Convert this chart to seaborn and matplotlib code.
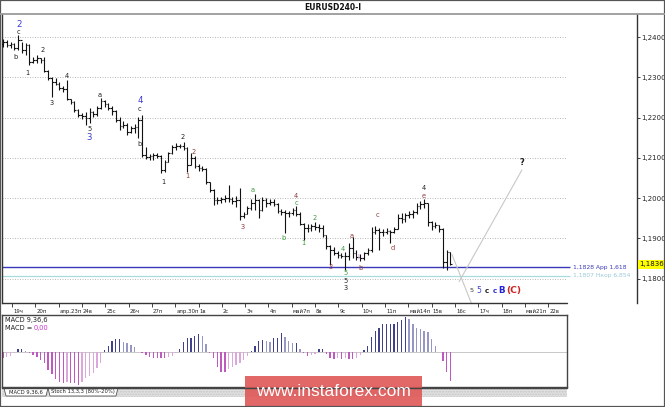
import numpy as np
import pandas as pd
import matplotlib
matplotlib.use("Agg")
import matplotlib.pyplot as plt
import seaborn as sns
from matplotlib.patches import Rectangle, Polygon
from matplotlib.lines import Line2D
from matplotlib.transforms import ScaledTranslation

# ---------------- data (EURUSD H4) ----------------
opens = [1.2383, 1.2388, 1.2380, 1.2383, 1.2373, 1.2393, 1.2368, 1.2380, 1.2338, 1.2343,
         1.2348, 1.2343, 1.2316, 1.2298, 1.2289, 1.2284, 1.2274, 1.2271, 1.2246, 1.2239,
         1.2219, 1.2207, 1.2204, 1.2199, 1.2214, 1.2209, 1.2224, 1.2242, 1.2234, 1.2224,
         1.2217, 1.2194, 1.2179, 1.2182, 1.2164, 1.2174, 1.2177, 1.2194, 1.2108, 1.2103,
         1.2105, 1.2108, 1.2105, 1.2070, 1.2090, 1.2113, 1.2127, 1.2130, 1.2130, 1.2125,
         1.2083, 1.2100, 1.2080, 1.2075, 1.2073, 1.2041, 1.2021, 1.1996, 1.1996, 1.1998,
         1.2001, 1.1998, 1.1993, 1.1996, 1.1956, 1.1961, 1.1976, 1.1988, 1.1996, 1.1971,
         1.1996, 1.1988, 1.1991, 1.1986, 1.1969, 1.1966, 1.1964, 1.1964, 1.1971, 1.1961,
         1.1936, 1.1926, 1.1926, 1.1931, 1.1929, 1.1926, 1.1909, 1.1882, 1.1872, 1.1865,
         1.1860, 1.1857, 1.1857, 1.1877, 1.1865, 1.1855, 1.1852, 1.1865, 1.1872, 1.1917,
         1.1922, 1.1917, 1.1917, 1.1919, 1.1917, 1.1924, 1.1951, 1.1949, 1.1959, 1.1961,
         1.1966, 1.1981, 1.1986, 1.1988, 1.1941, 1.1931, 1.1934, 1.1924, 1.1842, 1.1867]
highs = [1.2395, 1.2393, 1.2388, 1.2385, 1.2405, 1.2388, 1.2385, 1.2383, 1.2351, 1.2356,
         1.2348, 1.2351, 1.2318, 1.2301, 1.2298, 1.2289, 1.2279, 1.2294, 1.2246, 1.2242,
         1.2222, 1.2212, 1.2214, 1.2224, 1.2217, 1.2229, 1.2249, 1.2244, 1.2236, 1.2229,
         1.2219, 1.2202, 1.2192, 1.2187, 1.2179, 1.2184, 1.2202, 1.2207, 1.2127, 1.2110,
         1.2113, 1.2113, 1.2108, 1.2095, 1.2115, 1.2132, 1.2137, 1.2135, 1.2140, 1.2127,
         1.2113, 1.2105, 1.2085, 1.2080, 1.2075, 1.2041, 1.2023, 1.2003, 1.2003, 1.2008,
         1.2033, 1.2003, 1.2006, 1.2026, 1.1966, 1.1981, 1.1998, 1.2011, 1.1998, 1.2003,
         1.2001, 1.1998, 1.1998, 1.1988, 1.1974, 1.1971, 1.1969, 1.1976, 1.1981, 1.1966,
         1.1939, 1.1936, 1.1936, 1.1941, 1.1936, 1.1934, 1.1909, 1.1884, 1.1879, 1.1869,
         1.1865, 1.1867, 1.1889, 1.1904, 1.1872, 1.1862, 1.1867, 1.1877, 1.1929, 1.1931,
         1.1926, 1.1924, 1.1926, 1.1922, 1.1929, 1.1961, 1.1964, 1.1964, 1.1969, 1.1971,
         1.1988, 1.1993, 1.1998, 1.1988, 1.1944, 1.1941, 1.1934, 1.1926, 1.1872, 1.1867]
lows = [1.2375, 1.2375, 1.2373, 1.2368, 1.2368, 1.2360, 1.2356, 1.2331, 1.2336, 1.2336,
        1.2336, 1.2313, 1.2294, 1.2251, 1.2281, 1.2269, 1.2264, 1.2244, 1.2234, 1.2214,
        1.2202, 1.2197, 1.2182, 1.2187, 1.2202, 1.2204, 1.2222, 1.2227, 1.2219, 1.2207,
        1.2189, 1.2170, 1.2174, 1.2157, 1.2162, 1.2162, 1.2150, 1.2103, 1.2098, 1.2095,
        1.2095, 1.2100, 1.2063, 1.2065, 1.2090, 1.2110, 1.2120, 1.2125, 1.2120, 1.2065,
        1.2083, 1.2075, 1.2068, 1.2068, 1.2036, 1.2016, 1.1984, 1.1986, 1.1988, 1.1991,
        1.1991, 1.1986, 1.1979, 1.1946, 1.1951, 1.1961, 1.1971, 1.1971, 1.1951, 1.1969,
        1.1979, 1.1984, 1.1981, 1.1964, 1.1959, 1.1914, 1.1954, 1.1959, 1.1956, 1.1934,
        1.1897, 1.1917, 1.1919, 1.1922, 1.1917, 1.1904, 1.1874, 1.1835, 1.1860, 1.1852,
        1.1852, 1.1822, 1.1847, 1.1852, 1.1847, 1.1845, 1.1847, 1.1860, 1.1867, 1.1912,
        1.1872, 1.1907, 1.1912, 1.1889, 1.1914, 1.1924, 1.1939, 1.1941, 1.1951, 1.1951,
        1.1961, 1.1974, 1.1976, 1.1931, 1.1922, 1.1926, 1.1917, 1.1827, 1.1822, 1.1835]
closes = [1.2388, 1.2380, 1.2383, 1.2373, 1.2393, 1.2368, 1.2380, 1.2338, 1.2343, 1.2348,
          1.2343, 1.2316, 1.2298, 1.2289, 1.2284, 1.2274, 1.2271, 1.2246, 1.2239, 1.2219,
          1.2207, 1.2204, 1.2199, 1.2214, 1.2209, 1.2224, 1.2242, 1.2234, 1.2224, 1.2217,
          1.2194, 1.2179, 1.2182, 1.2164, 1.2174, 1.2177, 1.2194, 1.2108, 1.2103, 1.2105,
          1.2108, 1.2105, 1.2070, 1.2090, 1.2113, 1.2127, 1.2130, 1.2130, 1.2125, 1.2083,
          1.2100, 1.2080, 1.2075, 1.2073, 1.2041, 1.2021, 1.1996, 1.1996, 1.1998, 1.2001,
          1.1998, 1.1993, 1.1996, 1.1956, 1.1961, 1.1976, 1.1988, 1.1996, 1.1971, 1.1996,
          1.1988, 1.1991, 1.1986, 1.1969, 1.1966, 1.1964, 1.1964, 1.1971, 1.1961, 1.1936,
          1.1926, 1.1926, 1.1931, 1.1929, 1.1926, 1.1909, 1.1882, 1.1872, 1.1865, 1.1860,
          1.1857, 1.1857, 1.1877, 1.1865, 1.1855, 1.1852, 1.1865, 1.1872, 1.1917, 1.1922,
          1.1917, 1.1917, 1.1919, 1.1917, 1.1924, 1.1951, 1.1949, 1.1959, 1.1961, 1.1966,
          1.1981, 1.1986, 1.1988, 1.1941, 1.1931, 1.1934, 1.1924, 1.1842, 1.1867, 1.1837]
macd_hist = [-0.00067, -0.00057, -0.00043, -0.00017, 0.00027, 0.00027, 0.00010, -0.00015, -0.00033, -0.00050,
             -0.00083, -0.00117, -0.00183, -0.00220, -0.00270, -0.00300, -0.00310, -0.00300, -0.00317, -0.00317,
             -0.00333, -0.00300, -0.00267, -0.00243, -0.00217, -0.00167, -0.00117, 0.00017, 0.00057, 0.00110,
             0.00123, 0.00123, 0.00100, 0.00083, 0.00067, 0.00043, -0.00005, -0.00017, -0.00033, -0.00050,
             -0.00067, -0.00067, -0.00067, -0.00067, -0.00057, -0.00043, -0.00017, 0.00023, 0.00100, 0.00133,
             0.00133, 0.00157, 0.00177, 0.00157, 0.00077, -0.00010, -0.00067, -0.00150, -0.00200, -0.00200,
             -0.00177, -0.00157, -0.00133, -0.00117, -0.00083, -0.00043, 0.00007, 0.00057, 0.00110, 0.00117,
             0.00110, 0.00100, 0.00133, 0.00133, 0.00183, 0.00150, 0.00110, 0.00083, 0.00090, 0.00023,
             -0.00017, -0.00043, -0.00033, -0.00023, 0.00023, 0.00030, -0.00020, -0.00067, -0.00077, -0.00067,
             -0.00077, -0.00067, -0.00077, -0.00077, -0.00067, -0.00033, 0.00017, 0.00057, 0.00143, 0.00210,
             0.00240, 0.00277, 0.00277, 0.00277, 0.00277, 0.00300, 0.00317, 0.00343, 0.00323, 0.00277,
             0.00233, 0.00223, 0.00210, 0.00200, 0.00123, 0.00057, -0.00003, -0.00090, -0.00200, -0.00290]

day_tick_pos = [2.4, 8.6, 14.8, 21.0, 27.2, 33.4, 39.6, 45.8, 52.0, 58.2, 64.4, 70.6,
                76.8, 83.0, 89.2, 95.4, 101.6, 107.8, 114.0, 120.2, 126.4, 132.6, 138.8, 145.0]
day_labels = ["19ч", "20п", "апр.23п", "24в", "25с", "26ч", "27п", "апр.30п", "1в", "2с",
              "3ч", "4п", "май7п", "8в", "9с", "10ч", "11п", "май14п", "15в", "16с",
              "17ч", "18п", "май21п", "22в"]
price_levels = [1.18, 1.19, 1.20, 1.21, 1.22, 1.23, 1.24]
price_labels = ["1,1800", "1,1900", "1,2000", "1,2100", "1,2200", "1,2300", "1,2400"]

target1, target1_label = 1.1828, "1,1828 App 1,618"
target2, target2_label = 1.1807, "1,1807 Нкор 6,854"
last_price, last_label = 1.1836, "1,1836"

BLK, BLU, MAR, GRN, MAG = "#222222", "#3a3ad0", "#8b3a3a", "#3c9a3c", "#d070d0"
wave_x = [4.2, 4.2, 3.2, 6.4, 10.6, 12.8, 17.0, 25.8, 22.9, 22.9, 36.4, 36.4, 36.4,
          42.6, 47.9, 48.9, 50.8, 63.6, 66.5, 77.9, 77.9, 74.7, 79.8, 83.0, 87.2, 90.4,
          92.6, 94.4, 91.2, 91.2, 91.2, 95.2, 99.7, 103.7, 112.0, 112.0]
wave_y = [1.2430, 1.2413, 1.2351, 1.2311, 1.2368, 1.2237, 1.2303, 1.2256, 1.2172, 1.2150,
          1.2242, 1.2222, 1.2135, 1.2041, 1.2152, 1.2056, 1.2115, 1.1929, 1.2021, 1.2006,
          1.1988, 1.1902, 1.1889, 1.1951, 1.1830, 1.1874, 1.1907, 1.1855, 1.1815, 1.1795,
          1.1778, 1.1827, 1.1959, 1.1877, 1.2026, 1.2006]
wave_txt = ["2", "c", "b", "1", "2", "3", "4", "a", "5", "3", "4", "c", "b",
            "1", "2", "1", "2", "3", "a", "4", "c", "b", "1", "2", "3", "4",
            "a", "l", "5", "5", "3", "b", "c", "d", "4", "e"]
wave_col = [BLU, BLK, BLK, BLK, BLK, BLK, BLK, BLK, BLK, BLU, BLU, BLK, BLK,
            BLK, BLK, MAR, MAR, MAR, GRN, MAR, GRN, GRN, GRN, GRN, MAR, GRN,
            MAR, MAG, GRN, BLK, BLK, MAR, MAR, MAR, BLK, MAR]
wave_big = [1, 0, 0, 0, 0, 0, 0, 0, 0, 1, 1, 0, 0,
            0, 0, 0, 0, 0, 0, 0, 0, 0, 0, 0, 0, 0,
            0, 0, 0, 0, 0, 0, 0, 0, 0, 0]

seq_x = [124.6, 126.5, 128.6, 130.7, 132.6, 135.8]
seq_y = 1.1770
seq_txt = ["5", "5", "c", "c", "B", "(C)"]
seq_col = ["#333333", "#4444cc", "#222222", "#3333cc", "#2222dd", "#cc2222"]
seq_size = [4.6, 5.6, 5.2, 5.2, 6.3, 6.6]
seq_bold = [False, False, True, True, True, True]

proj_down_x, proj_down_y = [119.4, 124.7], [1.1860, 1.1736]
proj_up_x, proj_up_y = [121.3, 138.0], [1.1793, 1.2070]
question_x, question_y = 138.0, 1.2088

# ---------------- figure ----------------
sns.set_style("white")
plt.rcParams["font.family"] = ["DejaVu Sans"]
W, H = 665, 407
fig = plt.figure(figsize=(W / 100, H / 100), dpi=100)
fig.patch.set_facecolor("white")

def fbox(x0, y0, x1, y1):
    return [x0 / W, 1 - y1 / H, (x1 - x0) / W, (y1 - y0) / H]

XL = (-0.27, 168.6)
YL = (1.17399, 1.24571)
ax = fig.add_axes(fbox(2, 14, 637, 303))
ax.set_xlim(*XL)
ax.set_ylim(*YL)
ax.set_facecolor("white")

idx = np.arange(len(closes))
# grid
ax.hlines(price_levels, XL[0], 150.0, colors="#b0b0b0", linestyles=(0, (1.2, 1.8)), lw=0.6, zorder=1)
# targets
ax.hlines([target1], XL[0], 150.8, colors="#3a3ab8", lw=1.0, zorder=2)
ax.hlines([target2], XL[0], 150.8, colors="#a8dde0", lw=0.9, zorder=2)
ax.text(151.6, target1, target1_label, color="#3a3ab8", fontsize=4.3, va="center", ha="left")
ax.text(151.6, target2, target2_label, color="#9cc8d8", fontsize=4.3, va="center", ha="left")

# projection lines
ax.plot(proj_down_x, proj_down_y, color="#c8c8c8", lw=0.8, zorder=2)
ax.plot(proj_up_x, proj_up_y, color="#c8c8c8", lw=0.8, zorder=2)

# OHLC bars
ax.vlines(idx, lows, highs, colors="#111111", lw=0.8, zorder=3)
ax.hlines(opens, idx - 0.45, idx, colors="#111111", lw=0.8, zorder=3)
ax.hlines(closes, idx, idx + 0.45, colors="#111111", lw=0.8, zorder=3)

# wave labels
for x, y, t, c, b in zip(wave_x, wave_y, wave_txt, wave_col, wave_big):
    ax.text(x, y, t, color=c, fontsize=6.2 if b else 4.8, ha="center", va="center", zorder=4)
for x, t, c, s, b in zip(seq_x, seq_txt, seq_col, seq_size, seq_bold):
    ax.text(x, seq_y, t, color=c, fontsize=s, fontweight="bold" if b else "normal",
            ha="center", va="center", zorder=4)
ax.text(question_x, question_y, "?", color="#222222", fontsize=6, fontweight="bold",
        ha="center", va="center")

# axes styling
for s in ["top", "bottom"]:
    ax.spines[s].set_visible(False)
for s in ["left", "right"]:
    ax.spines[s].set_color("#333333")
    ax.spines[s].set_linewidth(1.0)
ax.axhline(YL[0], xmin=0, xmax=(567 - 2) / 635, color="#333333", lw=1.0, clip_on=False)

ax.yaxis.tick_right()
ax.set_yticks(price_levels)
ax.set_yticklabels(price_labels)
ax.tick_params(axis="y", which="both", direction="out", length=2, width=0.6, pad=1,
               labelsize=5, colors="#222222", right=True, left=False)
ax.set_xticks(day_tick_pos)
ax.set_xticklabels(day_labels)
ax.tick_params(axis="x", direction="out", length=3, width=0.6, pad=1.5,
               labelsize=3.9, colors="#222222", bottom=True)
off = ScaledTranslation(1.0 / 100, 0, fig.dpi_scale_trans)
for lbl in ax.get_xticklabels():
    lbl.set_horizontalalignment("left")
    lbl.set_transform(lbl.get_transform() + off)

ax.text(1.004, last_price, last_label, transform=ax.get_yaxis_transform(), fontsize=5,
        ha="left", va="center", color="#111111",
        bbox=dict(boxstyle="square,pad=0.25", fc="#ffff00", ec="none"))

# ---------------- MACD panel ----------------
ax2 = fig.add_axes(fbox(2, 315, 567, 387))
m = np.array(macd_hist)
prev = np.concatenate([[m[0]], m[:-1]])
group = np.where(m >= 0, np.where(m >= prev, "pos_up", "pos_dn"),
                 np.where(m <= prev, "neg_dn", "neg_up"))
macd_df = pd.DataFrame({"bar": idx, "macd": m, "grp": group})
pal = {"pos_up": "#33339a", "pos_dn": "#9090cc", "neg_dn": "#d048d0", "neg_up": "#e4a0e4"}
ax2.axhline(0, color="#c8c8c8", lw=0.7, zorder=0)
sns.barplot(data=macd_df, x="bar", y="macd", hue="grp", palette=pal, native_scale=True,
            dodge=False, width=0.35, linewidth=0, errorbar=None, legend=False, ax=ax2)
ax2.set_xlim(XL[0], 150.0)
ax2.set_ylim(-0.00353, 0.00367)
ax2.set_xticks([])
ax2.set_yticks([])
ax2.set_xlabel("")
ax2.set_ylabel("")
for s in ax2.spines.values():
    s.set_visible(True)
    s.set_color("#444444")
    s.set_linewidth(1.0)
ax2.text(0.006, 0.93, "MACD 9,36,6", transform=ax2.transAxes, fontsize=4.8, color="#222222",
         ha="left", va="center")
ax2.text(0.006, 0.82, "MACD =", transform=ax2.transAxes, fontsize=4.8, color="#222222",
         ha="left", va="center")
ax2.text(0.056, 0.82, "0,00", transform=ax2.transAxes, fontsize=4.8, color="#cc33cc",
         ha="left", va="center")

# ---------------- frame decorations ----------------
fig.text(333 / W, 1 - 7 / H, "EURUSD240-I", fontsize=5.5, fontweight="bold",
         ha="center", va="center", color="#111111")
fig.add_artist(Line2D([0, 1], [1 - 14 / H] * 2, color="#9a9a9a", lw=1.3))
# tab strip
fig.add_artist(Rectangle((2 / W, 1 - 397 / H), 565 / W, 9 / H, facecolor="#e2e2e2",
                         edgecolor="#c6c6c6", hatch="......", lw=0.0))
fig.add_artist(Line2D([2 / W, 567 / W], [1 - 388 / H] * 2, color="#444444", lw=1.0))
tab1 = [(4, 388), (48, 388), (46, 396), (6, 396)]
tab2 = [(48, 388), (118, 388), (116, 396), (50, 396)]
for tab in (tab2, tab1):
    fig.add_artist(Polygon([(x / W, 1 - y / H) for x, y in tab], closed=True,
                           facecolor="white", edgecolor="#555555", lw=0.6))
fig.text(26 / W, 1 - 392 / H, "MACD 9,36,6", fontsize=3.8, ha="center", va="center", color="#222222")
fig.text(83 / W, 1 - 392 / H, "Stoch 13,3,3 (80%-20%)", fontsize=3.8, ha="center", va="center",
         color="#222222")
# watermark
fig.add_artist(Rectangle((245 / W, 0), 177 / W, 31 / H, facecolor="#e05a5a", alpha=0.92,
                         edgecolor="none"))
fig.text(333 / W, 1 - 392 / H, "www.instaforex.com", fontsize=12.5, color="white",
         ha="center", va="center", family=["Liberation Sans", "DejaVu Sans"])
# outer border
fig.add_artist(Rectangle((0, 0), 1, 1, fill=False, edgecolor="#555555", lw=1.6,
                         transform=fig.transFigure))

fig.savefig("out.png", dpi=100, facecolor="white")
